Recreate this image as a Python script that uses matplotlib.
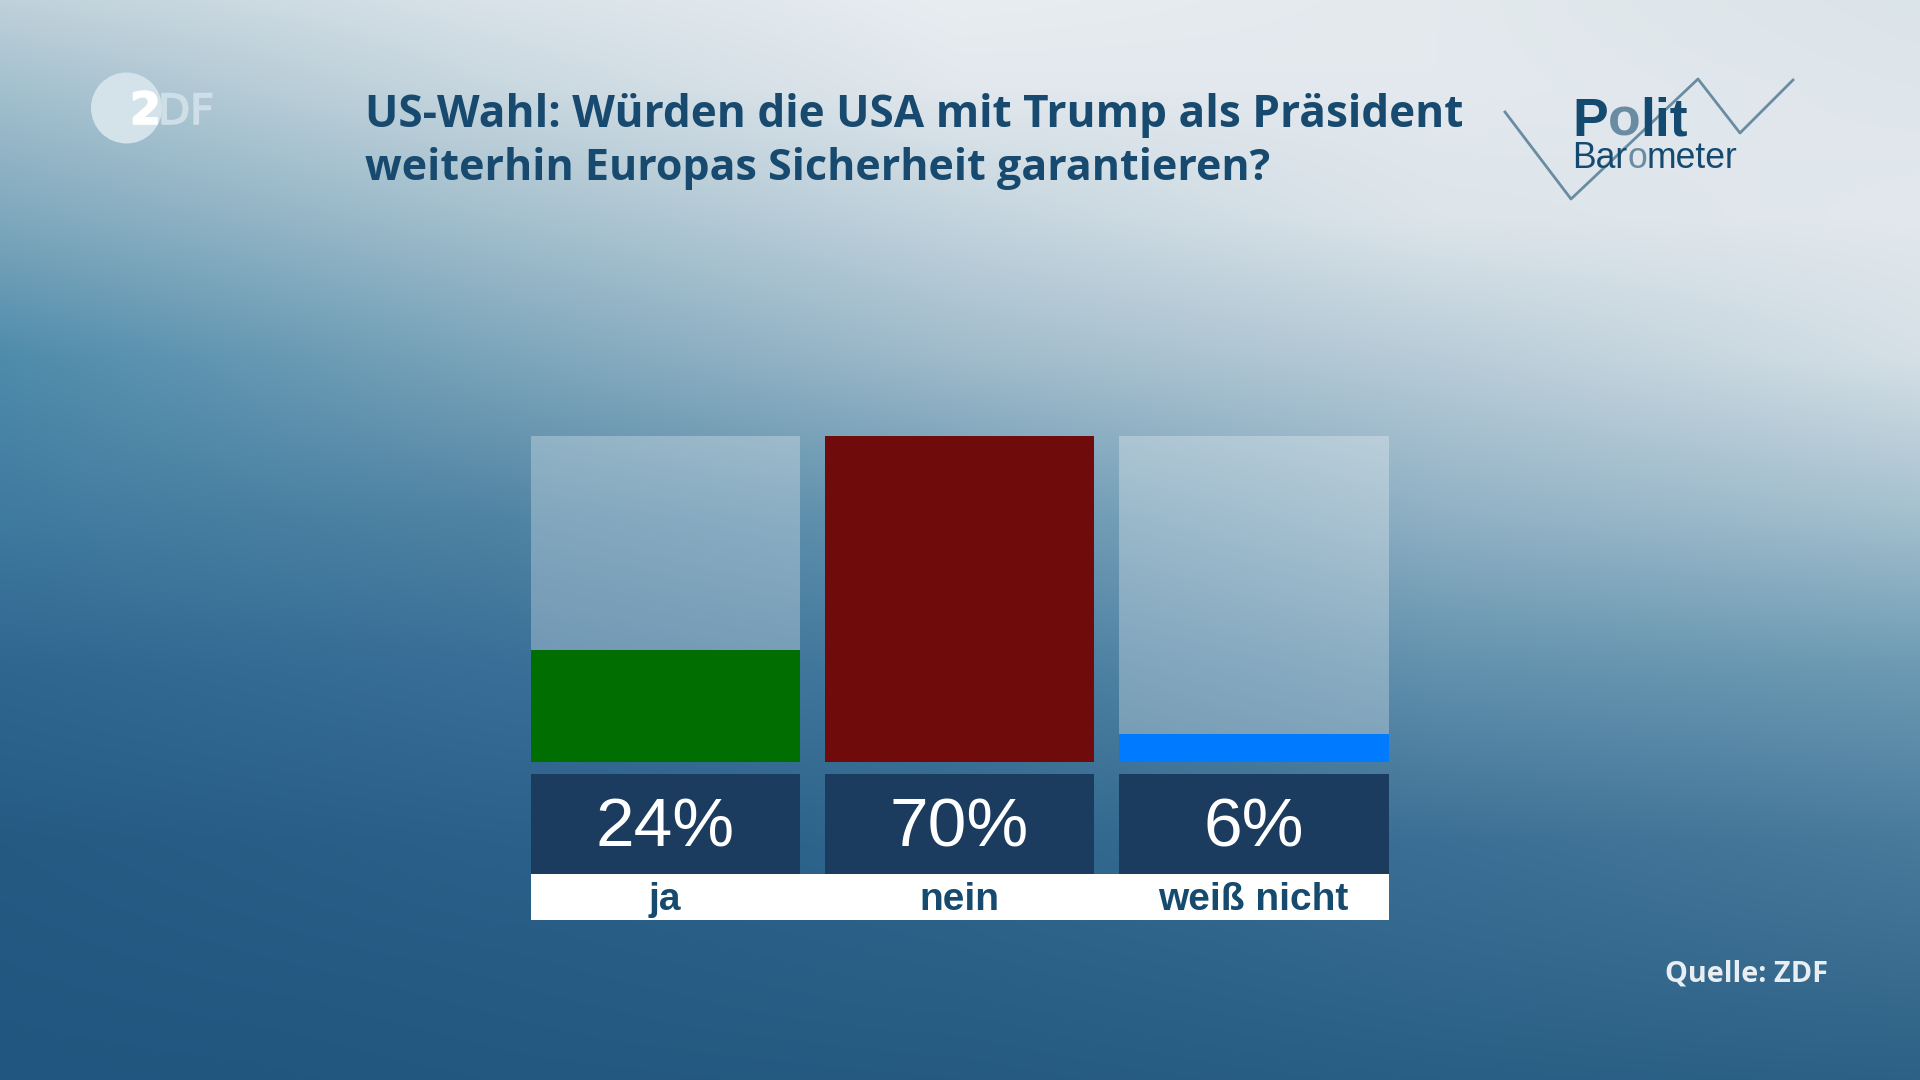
import matplotlib
matplotlib.use('Agg')
import matplotlib.pyplot as plt
import matplotlib.patheffects as pe
from matplotlib.colors import to_rgb
from matplotlib.patches import Circle
import numpy as np

categories = ['ja', 'nein', 'weiß nicht']
values = [24, 70, 6]
value_labels = ['24%', '70%', '6%']
bar_colors = ['#006e00', '#700b0b', '#007afe']
title_lines = ['US-Wahl: Würden die USA mit Trump als Präsident', 'weiterhin Europas Sicherheit garantieren?']
source = 'Quelle: ZDF'

W, H = 1920, 1080
# background colours, rough grid (rows top to bottom)
bg_rows = [0.0, 0.08, 0.2, 0.33, 0.48, 0.62, 0.78, 1.0]
bg_cols = [0.0, 0.25, 0.5, 0.75, 1.0]
bg_grid = [
    ['#bfd1da', '#d8e2e8', '#e8edf1', '#e3e9ed', '#dbe4e9'],
    ['#a3c0ce', '#c8d7df', '#e2e8ed', '#e3e9ee', '#dfe6eb'],
    ['#7fa8bd', '#a3bfcd', '#c3d4de', '#dde5ea', '#e2e8ed'],
    ['#4e8bab', '#7aa4ba', '#a0bbcb', '#b8ccd8', '#d5e0e6'],
    ['#3f7a9f', '#4f83a3', '#6595b0', '#8fb0c4', '#a3bfce'],
    ['#2f6690', '#386e97', '#457a9e', '#6191ad', '#6c9ab3'],
    ['#255b83', '#2a6089', '#2f668c', '#3c6f95', '#487a9c'],
    ['#20567f', '#235880', '#265a81', '#2a5f85', '#2d6185'],
]


def make_background():
    rgb = np.array([[to_rgb(c) for c in row] for row in bg_grid])
    ys = np.linspace(0, 1, 270)
    xs = np.linspace(0, 1, 480)
    img = np.zeros((270, 480, 3))
    for k in range(3):
        # interpolate down the rows, then along the columns
        cols = np.array([np.interp(ys, bg_rows, rgb[:, j, k]) for j in range(5)])
        for i in range(270):
            img[i, :, k] = np.interp(xs, bg_cols, cols[:, i])
    return img


def place_pieces(ax, fig, x, y, pieces, **kw):
    # put text pieces one after the other, different colour per piece
    r = fig.canvas.get_renderer()
    for s, col in pieces:
        t = ax.text(x, y, s, color=col, va='baseline', ha='left', **kw)
        x += t.get_window_extent(r).width


fig = plt.figure(figsize=(19.2, 10.8), dpi=100)

# full figure layer in pixel coordinates for background and logos
deco = fig.add_axes([0, 0, 1, 1])
deco.axis('off')
deco.imshow(make_background(), extent=[0, W, H, 0], aspect='auto', interpolation='bilinear', zorder=0)
deco.set_xlim(0, W)
deco.set_ylim(H, 0)

# title + source
deco.text(365, 127, title_lines[0], fontsize=31.8, fontweight='bold', family='Open Sans', color='#174a6e', va='baseline')
deco.text(365, 180, title_lines[1], fontsize=31, fontweight='bold', family='Open Sans', color='#174a6e', va='baseline')
deco.text(1828, 981, source, fontsize=20.8, fontweight='bold', family='Open Sans', color='#e8eef2', ha='right', va='baseline')

# ZDF logo
deco.add_patch(Circle((126.5, 108), 35.5, color='#d4e3ea', lw=0))
deco.text(130, 124, '2', fontsize=32, fontweight='bold', family='DejaVu Sans', color='white', va='baseline',
          path_effects=[pe.withStroke(linewidth=1.2, foreground='white')])
deco.text(158, 124, 'DF', fontsize=30, family='DejaVu Sans', color='#cfdfe7', va='baseline',
          path_effects=[pe.withStroke(linewidth=1.2, foreground='#cfdfe7')])

# Politbarometer logo
deco.plot([1505, 1571, 1698, 1740, 1793], [112, 199, 79, 133, 80], color='#6a8ca3', lw=2)
place_pieces(deco, fig, 1572, 136, [('P', '#144a70'), ('o', '#6a8ca3'), ('lit', '#144a70')],
             fontsize=38.5, fontweight='bold', family='Liberation Sans')
place_pieces(deco, fig, 1572, 168, [('Bar', '#144a70'), ('o', '#6a8ca3'), ('meter', '#144a70')],
             fontsize=25.6, family='Liberation Sans')

# bars, axes spans exactly the full height of the 70% bar
ax = fig.add_axes([530.5 / W, 1 - 761.5 / H, 858 / W, 325.5 / H])
ax.patch.set_alpha(0)
ax.set_xlim(-0.458, 2.458)
ax.set_ylim(0, 70)
ax.axis('off')
x = np.arange(len(categories))
width = 0.916
ax.bar(x, [70] * 3, width=width, color='white', alpha=0.28, lw=0)
ax.bar(x, values, width=width, color=bar_colors, lw=0)

# value boxes and white label strip under the bars
ax.bar(x, [21.5] * 3, bottom=-24.1, width=width, color='#1b3c5f', lw=0, clip_on=False)
ax.bar([1], [9.9], bottom=-34, width=2.916, color='white', lw=0, clip_on=False)
for i in x:
    ax.text(i, -14.4, value_labels[i], fontsize=50, family='Liberation Sans', color='white',
            ha='center', va='center', clip_on=False)
    ax.text(i, -29.8, categories[i], fontsize=28, fontweight='bold', family='Liberation Sans', color='#164a6e',
            ha='center', va='center', clip_on=False)

fig.savefig('out.png', dpi=100)
